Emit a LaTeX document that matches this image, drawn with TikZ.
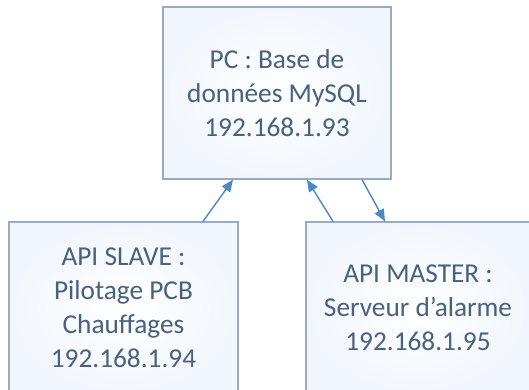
\documentclass[tikz,border=0pt]{standalone}
\usepackage{fontspec}
\setmainfont{Carlito}
\usetikzlibrary{arrows.meta}
\definecolor{boxline}{RGB}{150,170,196}
\definecolor{boxfill}{RGB}{241,246,252}
\definecolor{arrowblue}{RGB}{78,136,196}
\definecolor{txt}{RGB}{74,96,128}
\begin{document}
\begin{tikzpicture}[x=1pt,y=-1pt,
  box/.style={draw=boxline,line width=1.2pt,inner color=white,outer color=boxfill,
    rectangle,minimum height=172pt,align=center,text=txt,
    font=\fontsize{27.3}{34}\selectfont},
  link/.style={draw=arrowblue,line width=1.4pt,-{Triangle[length=12pt,width=10pt]}}]
\useasboundingbox (0,0) rectangle (529,389);
\clip (0,0) rectangle (529,389);
\fill[white] (0,0) rectangle (529,389);
% database server
\node[box,minimum width=228pt] (pc) at (277,93) {PC : Base de\\données MySQL\\192.168.1.93};
% slave controller
\node[box,minimum width=229pt] (slave) at (123.5,308) {API SLAVE :\\Pilotage PCB\\Chauffages\\192.168.1.94};
% master controller
\node[box,minimum width=224pt] (master) at (418,308) {API MASTER :\\Serveur d’alarme\\192.168.1.95};
% links
\draw[link] (slave.north -| 203,0) -- (pc.south -| 233,0);
\draw[link] (master.north -| 333,0) -- (pc.south -| 307,0);
\draw[link] (pc.south -| 362,0) -- (master.north -| 385,0);
\end{tikzpicture}
\end{document}
